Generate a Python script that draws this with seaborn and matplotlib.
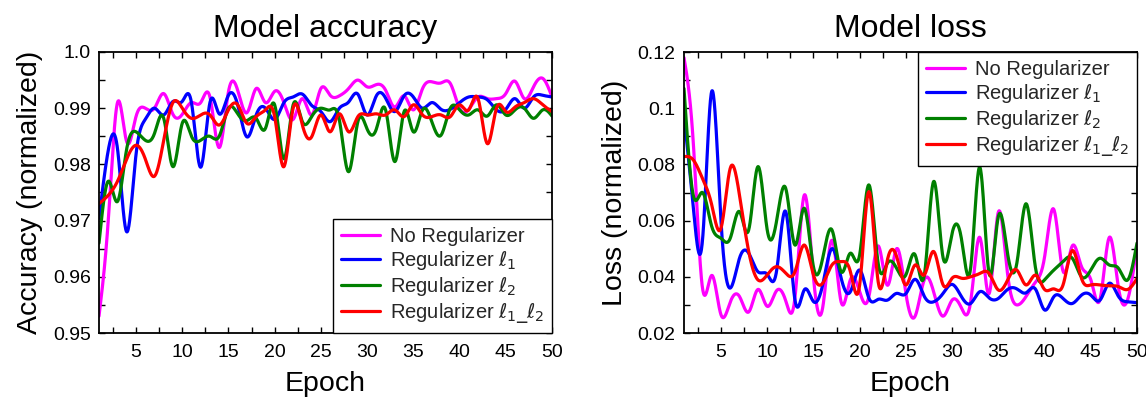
import numpy as np
import pandas as pd
import matplotlib
matplotlib.use("Agg")
import matplotlib.pyplot as plt
from matplotlib.ticker import MultipleLocator, FixedLocator, FixedFormatter
import seaborn as sns

# ---------------- data ----------------
epochs = list(range(1, 51))

series_names = ["No Regularizer", r"Regularizer $\ell_1$",
                r"Regularizer $\ell_2$", r"Regularizer $\ell_1\_\ell_2$"]
series_colors = ["#ff00ff", "#0000ff", "#008000", "#ff0000"]

acc_none = [0.953, 0.970, 0.991, 0.984, 0.9885, 0.990, 0.990, 0.9926, 0.9889, 0.9889,
            0.991, 0.991, 0.992, 0.983, 0.9929, 0.9932, 0.9892, 0.9935, 0.991, 0.993,
            0.991, 0.988, 0.9917, 0.9888, 0.9935, 0.9923, 0.9922, 0.9935, 0.995, 0.9938,
            0.9942, 0.9932, 0.9902, 0.9922, 0.9897, 0.9935, 0.9947, 0.9945, 0.9944, 0.9900,
            0.9898, 0.992, 0.9917, 0.9917, 0.9926, 0.9948, 0.9917, 0.9938, 0.9953, 0.992]
acc_l1 = [0.9704, 0.9825, 0.9828, 0.968, 0.9817, 0.988, 0.990, 0.9888, 0.9912, 0.9912,
          0.991, 0.9795, 0.991, 0.989, 0.9923, 0.9906, 0.9849, 0.9888, 0.990, 0.988,
          0.991, 0.992, 0.9925, 0.9905, 0.9894, 0.9876, 0.990, 0.9911, 0.9925, 0.9888,
          0.9922, 0.9918, 0.9894, 0.9922, 0.992, 0.990, 0.991, 0.9898, 0.9898, 0.991,
          0.992, 0.992, 0.9915, 0.9897, 0.9898, 0.9917, 0.990, 0.992, 0.9923, 0.992]
acc_l2 = [0.966, 0.977, 0.9734, 0.9828, 0.9858, 0.9843, 0.9855, 0.9882, 0.9796, 0.9873,
          0.985, 0.9843, 0.985, 0.985, 0.990, 0.989, 0.9878, 0.9882, 0.9864, 0.9906,
          0.981, 0.9906, 0.9876, 0.9885, 0.990, 0.9897, 0.9879, 0.9787, 0.9876, 0.9863,
          0.9863, 0.9897, 0.9805, 0.9894, 0.9858, 0.9897, 0.9876, 0.9852, 0.990, 0.9897,
          0.9888, 0.9897, 0.9886, 0.9906, 0.9888, 0.9897, 0.990, 0.9882, 0.9897, 0.9886]
acc_l1l2 = [0.973, 0.9745, 0.977, 0.981, 0.9834, 0.981, 0.9779, 0.9843, 0.991, 0.990,
            0.9882, 0.9888, 0.9888, 0.987, 0.9897, 0.9906, 0.9873, 0.9885, 0.9897, 0.9885,
            0.9796, 0.990, 0.987, 0.9849, 0.9888, 0.9858, 0.989, 0.9858, 0.9885, 0.9888,
            0.989, 0.9888, 0.9897, 0.9885, 0.9906, 0.9888, 0.9885, 0.9888, 0.9885, 0.9906,
            0.9897, 0.9917, 0.9837, 0.990, 0.9894, 0.9902, 0.991, 0.9917, 0.9906, 0.9894]

loss_none = [0.118, 0.088, 0.036, 0.0405, 0.0265, 0.031, 0.033, 0.0275, 0.0355, 0.0295,
             0.035, 0.0315, 0.0325, 0.069, 0.040, 0.029, 0.053, 0.031, 0.039, 0.0347,
             0.033, 0.051, 0.037, 0.050, 0.034, 0.026, 0.039, 0.0347, 0.026, 0.0317,
             0.029, 0.031, 0.054, 0.034, 0.063, 0.041, 0.030, 0.033, 0.038, 0.047,
             0.064, 0.042, 0.051, 0.0436, 0.039, 0.032, 0.054, 0.036, 0.032, 0.051]
loss_l1 = [0.0976, 0.065, 0.053, 0.106, 0.060, 0.036, 0.0466, 0.0484, 0.0418, 0.0409,
           0.0418, 0.0632, 0.0318, 0.0353, 0.0312, 0.0371, 0.050, 0.0395, 0.0347, 0.0424,
           0.0324, 0.032, 0.0317, 0.0341, 0.034, 0.0391, 0.033, 0.0311, 0.034, 0.0373,
           0.033, 0.0305, 0.0347, 0.0325, 0.0323, 0.0355, 0.0357, 0.0343, 0.0357, 0.0282,
           0.0329, 0.0323, 0.0305, 0.0335, 0.0335, 0.0317, 0.0377, 0.033, 0.0311, 0.0308]
loss_l2 = [0.107, 0.069, 0.070, 0.0579, 0.0537, 0.0537, 0.0632, 0.0567, 0.0792, 0.0567,
           0.0596, 0.0715, 0.0513, 0.0644, 0.0436, 0.0466, 0.0567, 0.0418, 0.0484, 0.0478,
           0.0727, 0.0448, 0.0448, 0.043, 0.0407, 0.0478, 0.0407, 0.0739, 0.0472, 0.0555,
           0.0537, 0.043, 0.079, 0.0412, 0.0614, 0.0483, 0.0448, 0.066, 0.0436, 0.0389,
           0.0424, 0.0454, 0.0466, 0.040, 0.0424, 0.0466, 0.0442, 0.043, 0.0389, 0.052]
loss_l1l2 = [0.0828, 0.0816, 0.075, 0.0656, 0.0573, 0.0786, 0.0691, 0.049, 0.0389, 0.0407,
             0.0436, 0.0413, 0.0418, 0.0513, 0.0407, 0.0377, 0.0442, 0.0454, 0.0418, 0.0371,
             0.0703, 0.0383, 0.046, 0.0472, 0.0371, 0.0442, 0.0407, 0.049, 0.0373, 0.0395,
             0.0395, 0.040, 0.0412, 0.0412, 0.0353, 0.0388, 0.0424, 0.0371, 0.0406, 0.0355,
             0.0357, 0.0371, 0.0493, 0.0394, 0.0371, 0.0371, 0.0368, 0.0365, 0.0355, 0.0394]

x_ticks = [5, 10, 15, 20, 25, 30, 35, 40, 45, 50]
acc_yticks = [0.95, 0.96, 0.97, 0.98, 0.99, 1.0]
acc_yticklabels = ["0.95", "0.96", "0.97", "0.98", "0.99", "1.0"]
loss_yticks = [0.02, 0.04, 0.06, 0.08, 0.10, 0.12]
loss_yticklabels = ["0.02", "0.04", "0.06", "0.08", "0.1", "0.12"]


# ---------------- helpers ----------------
def natural_spline(x, y, num=1200):
    """Smooth display curve through the points (natural cubic spline)."""
    x = np.asarray(x, float)
    y = np.asarray(y, float)
    n = len(x)
    h = np.diff(x)
    A = np.zeros((n, n))
    rhs = np.zeros(n)
    A[0, 0] = A[-1, -1] = 1.0
    for i in range(1, n - 1):
        A[i, i - 1] = h[i - 1]
        A[i, i] = 2 * (h[i - 1] + h[i])
        A[i, i + 1] = h[i]
        rhs[i] = 3 * ((y[i + 1] - y[i]) / h[i] - (y[i] - y[i - 1]) / h[i - 1])
    c = np.linalg.solve(A, rhs)
    b = (y[1:] - y[:-1]) / h - h * (2 * c[:-1] + c[1:]) / 3
    d = (c[1:] - c[:-1]) / (3 * h)
    xs = np.linspace(x[0], x[-1], num)
    idx = np.clip(np.searchsorted(x, xs, side="right") - 1, 0, n - 2)
    dx = xs - x[idx]
    ys = y[idx] + b[idx] * dx + c[idx] * dx ** 2 + d[idx] * dx ** 3
    return xs, ys


def long_frame(curves):
    parts = []
    for name, vals in zip(series_names, curves):
        xs, ys = natural_spline(epochs, vals)
        parts.append(pd.DataFrame({"Epoch": xs, "value": ys, "series": name}))
    return pd.concat(parts, ignore_index=True)


# ---------------- style ----------------
sns.set_theme(style="white")
plt.rcParams["font.family"] = ["Liberation Sans", "DejaVu Sans"]
plt.rcParams["mathtext.fontset"] = "dejavusans"
plt.rcParams["axes.edgecolor"] = "black"
plt.rcParams["axes.linewidth"] = 1.3

fig = plt.figure(figsize=(11.46, 3.97), dpi=100)
ax_acc = fig.add_axes([99 / 1146, 64 / 397, 453 / 1146, 281 / 397])
ax_loss = fig.add_axes([684 / 1146, 64 / 397, 453 / 1146, 281 / 397])

palette = dict(zip(series_names, series_colors))

panels = [
    (ax_acc, [acc_none, acc_l1, acc_l2, acc_l1l2], "Model accuracy",
     "Accuracy (normalized)", (0.95, 1.0), acc_yticks, acc_yticklabels, 0.005, "lower right"),
    (ax_loss, [loss_none, loss_l1, loss_l2, loss_l1l2], "Model loss",
     "Loss (normalized)", (0.02, 0.12), loss_yticks, loss_yticklabels, 0.01, "upper right"),
]

for ax, curves, title, ylabel, ylim, yt, ytl, yminor, legloc in panels:
    df = long_frame(curves)
    sns.lineplot(data=df, x="Epoch", y="value", hue="series", hue_order=series_names,
                 palette=palette, estimator=None, sort=False, linewidth=2.3,
                 legend=False, ax=ax)
    ax.set_xlim(1, 50)
    ax.set_ylim(*ylim)
    ax.xaxis.set_major_locator(FixedLocator(x_ticks))
    ax.xaxis.set_minor_locator(MultipleLocator(2.5))
    ax.yaxis.set_major_locator(FixedLocator(yt))
    ax.yaxis.set_major_formatter(FixedFormatter(ytl))
    ax.yaxis.set_minor_locator(MultipleLocator(yminor))
    ax.tick_params(which="both", direction="in", top=True, right=True,
                   bottom=True, left=True, length=4, width=1, color="black")
    ax.tick_params(axis="x", which="major", labelsize=14, pad=8, labelcolor="black")
    ax.tick_params(axis="y", which="major", labelsize=14, pad=6, labelcolor="black")
    ax.set_title(title, fontsize=23, pad=11, color="black")
    ax.set_xlabel("Epoch", fontsize=20.5, labelpad=7, color="black")
    ax.set_ylabel(ylabel, fontsize=20.5, labelpad=7, color="black")
    for s in ax.spines.values():
        s.set_visible(True)
        s.set_color("black")
        s.set_linewidth(1.3)
    leg = ax.legend(ax.lines, series_names, loc=legloc, fontsize=14.5,
                    frameon=True, fancybox=False, framealpha=1, edgecolor="black",
                    borderaxespad=0, handlelength=1.9, labelspacing=0.15,
                    handletextpad=0.5, borderpad=0.4)
    leg.get_frame().set_linewidth(1.0)

fig.savefig("out.png", dpi=100)
